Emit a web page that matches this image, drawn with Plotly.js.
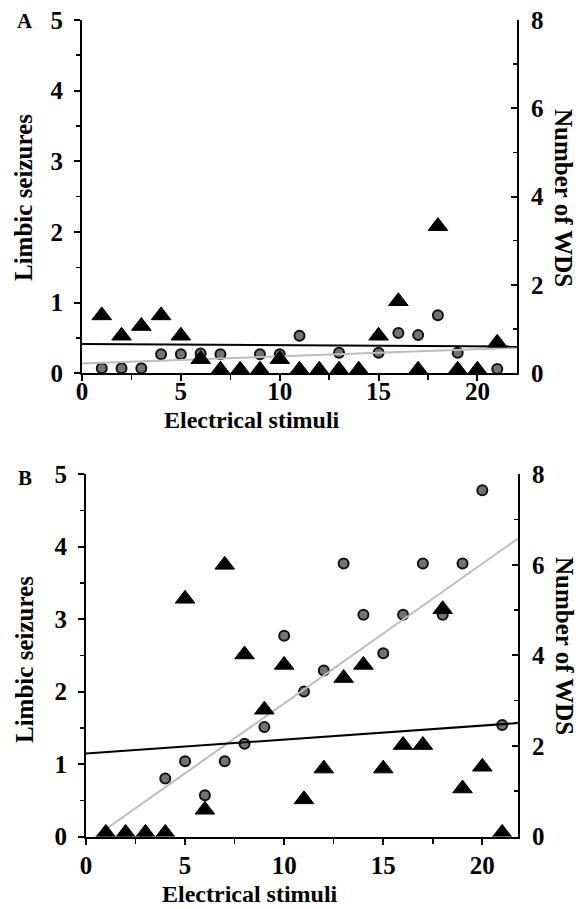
<!DOCTYPE html>
<html>
<head>
<meta charset="utf-8">
<script src="https://cdn.plot.ly/plotly-3.0.1.min.js"></script>
<style>html,body{margin:0;padding:0;background:#fff;}#chart{width:580px;height:909px;}</style>
</head>
<body>
<div id="chart"></div>
<script>
// Electrical stimulus number (both panels)
const stimuliA = [1,2,3,4,5,6,7,8,9,10,11,12,13,14,15,16,17,18,19,20,21];
const stimuliB = [1,2,3,4,5,6,7,8,9,10,11,12,13,14,15,16,17,18,19,20,21];
// Panel A: limbic seizures (grey circles, left axis)
const seizuresA = [0.07,0.07,0.07,0.27,0.27,0.28,0.27,0,0.27,0.27,0.53,0,0.29,0,0.29,0.57,0.54,0.82,0.29,0,0.06];
// Panel A: number of WDS (black triangles, right axis)
const wdsA = [1.31,0.85,1.07,1.31,0.85,0.32,0.08,0.08,0.08,0.32,0.08,0.08,0.08,0.08,0.85,1.63,0.08,3.33,0.08,0.08,0.69];
// Panel B: limbic seizures (grey circles, left axis)
const seizuresB = [0,0,0,0.80,1.04,0.57,1.04,1.28,1.51,2.77,2.0,2.29,3.77,3.06,2.53,3.06,3.77,3.06,3.77,4.78,1.54];
// Panel B: number of WDS (black triangles, right axis)
const wdsB = [0.08,0.08,0.08,0.08,5.25,0.59,6.0,4.02,2.8,3.79,0.82,1.5,3.5,3.79,1.5,2.02,2.02,5.02,1.06,1.54,0.08];
// Axis tick labels
const xTicks = [0,5,10,15,20];
const leftTicks = [0,1,2,3,4,5];
const rightTicks = [0,2,4,6,8];

function fit(xs, ys){
  const n = xs.length;
  const mx = xs.reduce((a,b)=>a+b,0)/n, my = ys.reduce((a,b)=>a+b,0)/n;
  let sxy=0, sxx=0;
  for(let i=0;i<n;i++){ sxy += (xs[i]-mx)*(ys[i]-my); sxx += (xs[i]-mx)*(xs[i]-mx); }
  const b = sxy/sxx; return {a: my - b*mx, b: b};
}
function lineTrace(xs, ys, xmax, xa, ya, color){
  const f = fit(xs, ys);
  const lx = [0, xmax];
  return {x: lx, y: lx.map(v=>f.a+f.b*v), xaxis: xa, yaxis: ya, mode:'lines',
          line:{color: color, width: 2}, hoverinfo:'skip', showlegend:false};
}

const FONT = 'Liberation Serif, Times New Roman, serif';
const circ = {symbol:'circle', size:10, color:'#737373', line:{color:'#111', width:2}};
const tri = {symbol:'triangle-up', size:17, color:'#000', line:{color:'#000', width:1}};
const xmaxA = 22, xmaxB = 21.8;

const data = [
  {x: stimuliA, y: seizuresA, xaxis:'x', yaxis:'y', mode:'markers', marker: circ, showlegend:false},
  lineTrace(stimuliA, seizuresA, xmaxA, 'x', 'y', '#bdbdbd'),
  {x: stimuliA, y: wdsA, xaxis:'x', yaxis:'y2', mode:'markers', marker: tri, showlegend:false},
  lineTrace(stimuliA, wdsA, xmaxA, 'x', 'y2', '#000'),
  {x: stimuliB, y: seizuresB, xaxis:'x2', yaxis:'y3', mode:'markers', marker: circ, showlegend:false},
  lineTrace(stimuliB, seizuresB, xmaxB, 'x2', 'y3', '#bdbdbd'),
  {x: stimuliB, y: wdsB, xaxis:'x2', yaxis:'y4', mode:'markers', marker: tri, showlegend:false},
  lineTrace(stimuliB, wdsB, xmaxB, 'x2', 'y4', '#000')
];

const bold = v => '<b>' + v + '</b>';
const tickFont = {family: FONT, size: 25, color:'#000', weight:'bold'};
function xAxis(domain, range, anchor, standoff){
  return {domain: domain, range: range, anchor: anchor, showgrid:false, zeroline:false,
    showline:true, linecolor:'#000', linewidth:2, ticks:'outside', ticklen:6, tickwidth:2, tickcolor:'#000',
    tickvals: xTicks, ticktext: xTicks.map(bold), tickfont: tickFont, ticklabelstandoff: standoff,
    minor:{dtick:2.5, tick0:0, ticks:'outside', ticklen:5, tickwidth:1.5, tickcolor:'#000'}, fixedrange:true};
}
function yLeft(domain, anchor){
  return {domain: domain, range:[0,5], anchor: anchor, showgrid:false, zeroline:false,
    showline:true, linecolor:'#000', linewidth:2, ticks:'outside', ticklen:6, tickwidth:2, tickcolor:'#000',
    tickvals: leftTicks, ticktext: leftTicks.map(bold), tickfont: tickFont, ticklabelstandoff: 6,
    minor:{dtick:0.5, tick0:0, ticks:'outside', ticklen:4, tickwidth:1.5, tickcolor:'#000'}, fixedrange:true};
}
function yRight(overlay, anchor){
  return {overlaying: overlay, side:'right', range:[0,8], anchor: anchor, showgrid:false, zeroline:false,
    showline:true, linecolor:'#000', linewidth:2, ticks:'inside', ticklen:6, tickwidth:2, tickcolor:'#000',
    tickvals: rightTicks, ticktext: rightTicks.map(bold), tickfont: tickFont, ticklabelstandoff: 7,
    minor:{dtick:1, tick0:0, ticks:'inside', ticklen:4, tickwidth:1.5, tickcolor:'#000'}, fixedrange:true};
}

const W = 580, H = 909;
const px = v => v/W, py = v => 1 - v/H;
const titleFont = {family: FONT, size: 24, color:'#000', weight:'bold'};
const sideFont = {family: FONT, size: 25, color:'#000', weight:'bold'};
function ann(text, x, y, angle, font){
  return {text: bold(text), x: px(x), y: py(y), xref:'paper', yref:'paper', showarrow:false,
    xanchor:'center', yanchor:'middle', textangle: angle, font: font || titleFont};
}
const labelFont = {family: FONT, size: 21, color:'#000', weight:'bold'};

const layout = {
  width: W, height: H, margin:{l:0, r:0, t:0, b:0}, paper_bgcolor:'#fff', plot_bgcolor:'#fff',
  showlegend:false,
  xaxis: xAxis([px(82), px(517)], [0, xmaxA], 'y', -11),
  yaxis: yLeft([py(373.3), py(19.8)], 'x'),
  yaxis2: yRight('y', 'x'),
  xaxis2: xAxis([px(86), px(518)], [0, xmaxB], 'y3', -1),
  yaxis3: yLeft([py(836.5), py(474.3)], 'x2'),
  yaxis4: yRight('y3', 'x2'),
  annotations: [
    ann('A', 25, 21, 0, labelFont),
    ann('B', 25, 478, 0, labelFont),
    ann('Limbic seizures', 24, 198, -90, sideFont),
    ann('Limbic seizures', 24, 660, -90, sideFont),
    ann('Number of WDS', 563, 198, 90, sideFont),
    ann('Number of WDS', 565, 646, 90, sideFont),
    ann('Electrical stimuli', 252, 420, 0),
    ann('Electrical stimuli', 250, 894, 0)
  ]
};

Plotly.newPlot('chart', data, layout, {displayModeBar:false, staticPlot:true});
</script>
</body>
</html>
